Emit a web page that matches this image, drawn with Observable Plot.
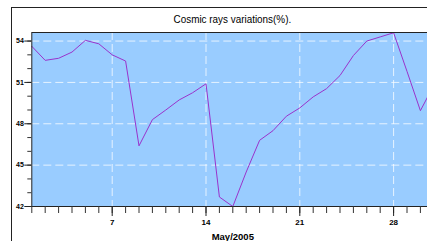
<!DOCTYPE html>
<html>
<head>
<meta charset="utf-8">
<script src="https://cdn.jsdelivr.net/npm/d3@7"></script>
<script src="https://cdn.jsdelivr.net/npm/@observablehq/plot@0.6"></script>
<style>
  html, body { margin: 0; padding: 0; background: #fff; overflow: hidden; width: 427px; height: 241px; }
  #frame { position: absolute; left: 11px; top: 7px; width: 442px; height: 300px; border-left: 1px solid #222; border-top: 1px solid #222; box-sizing: border-box; }
  #title { position: absolute; left: 11px; top: 7px; width: 442px; height: 25px; line-height: 25px; text-align: center;
           font-family: "Liberation Sans Narrow", "Arial Narrow", "Liberation Sans", sans-serif; font-size: 11.5px; color: #000; }
  #title span { display: inline-block; transform: scaleX(0.86); }
  #chart { position: absolute; left: 0; top: 0; width: 460px; }
  #chart svg { max-width: none !important; }
</style>
</head>
<body>
<div id="frame"></div>
<div id="title"><span>Cosmic rays variations(%).</span></div>
<div id="chart"></div>
<script>
const days = [1,2,3,4,5,6,7,8,9,10,11,12,13,14,15,16,17,18,19,20,21,22,23,24,25,26,27,28,29,30,31];
const values = [53.62, 52.6, 52.75, 53.2, 54.05, 53.8, 53.0, 52.55, 46.4, 48.3, 49.0, 49.73, 50.25, 50.9,
                42.69, 42.0, 44.5, 46.8, 47.5, 48.55, 49.15, 49.95, 50.55, 51.5, 52.95, 54.0, 54.3, 54.6,
                51.8, 48.95, 50.8];
const xMajorTicks = [7, 14, 21, 28];
const yMajorTicks = [42, 45, 48, 51, 54];
const yMinorTicks = [42,43,44,45,46,47,48,49,50,51,52,53,54];
const xLabel = "May/2005";

const data = days.map((d, i) => ({day: d, value: values[i]}));
const font = "Liberation Sans Narrow, Arial Narrow, Liberation Sans, sans-serif";

const chart = Plot.plot({
  width: 460,
  height: 241,
  marginLeft: 31.3,
  marginRight: 26.7,
  marginTop: 32,
  marginBottom: 35,
  style: {fontFamily: font, background: "transparent", overflow: "visible", maxWidth: "none"},
  x: {domain: [1, 31]},
  y: {domain: [42, 54.62]},
  marks: [
    Plot.frame({fill: "#99ccff"}),
    Plot.gridX(xMajorTicks, {stroke: "white", strokeOpacity: 0.75, strokeDasharray: "8,4"}),
    Plot.gridY([45, 48, 51, 54], {stroke: "white", strokeOpacity: 0.75, strokeDasharray: "8,4"}),
    Plot.line(data, {x: "day", y: "value", stroke: "#9933cc", strokeWidth: 1}),
    Plot.frame({stroke: "#222"}),
    Plot.axisX(days, {tickSize: 7, stroke: "#333", text: null, label: null}),
    Plot.axisX(xMajorTicks, {tickSize: 10, tickPadding: 3, stroke: "#222", fontWeight: "bold", fontSize: 8, label: null}),
    Plot.axisX({ticks: [], tickSize: 0, fontWeight: "bold", fontSize: 9.5,
      label: xLabel, labelAnchor: "center", labelArrow: "none", labelOffset: 33}),
    Plot.axisY(yMinorTicks, {tickSize: 4, stroke: "#333", text: null, label: null}),
    Plot.axisY(yMajorTicks, {tickSize: 7, tickPadding: 1, stroke: "#222", fontWeight: "bold", fontSize: 7, label: null})
  ]
});
document.getElementById("chart").appendChild(chart);
</script>
</body>
</html>
